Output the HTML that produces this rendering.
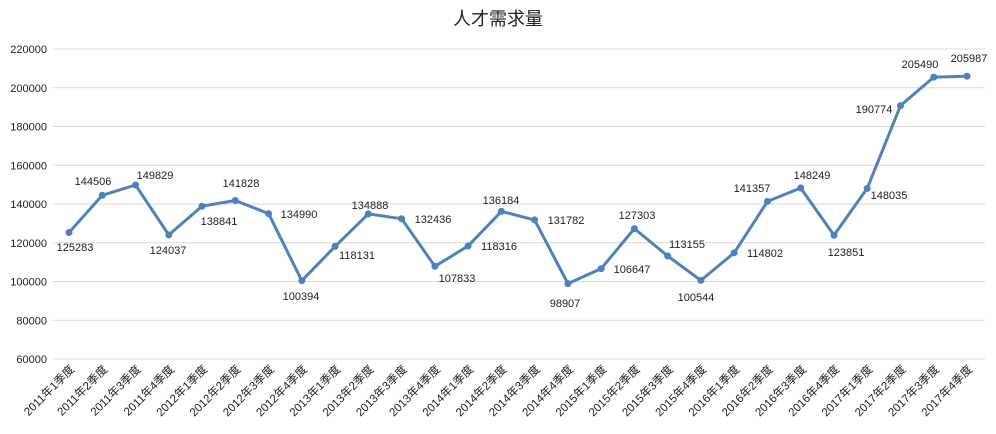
<!DOCTYPE html>
<html><head><meta charset="utf-8"><style>
html,body{margin:0;padding:0;background:#fff}
svg{display:block;font-family:"Liberation Sans","Noto Sans CJK SC",sans-serif}
</style></head><body>
<svg id="c" width="996" height="434" xmlns="http://www.w3.org/2000/svg"></svg>
<script>
var vals=[125283,144506,149829,124037,138841,141828,134990,100394,118131,134888,132436,107833,118316,136184,131782,98907,106647,127303,113155,100544,114802,141357,148249,123851,148035,190774,205490,205987];
var lab=[[75,247],[93,181],[155,175],[168,250],[219,221],[241,183],[299,214],[301,296],[357,255],[370,205],[433,219],[457,278],[499,246],[501,200],[566,220],[565,303],[632,269],[637,215],[687,244],[696,297],[765,253],[752,188],[812,175],[846,252],[889,195],[874,109],[920,64],[969,58]];
function Y(v){return 49+(220000-v)*310/160000;}
function X(i){return 69+i*33.26;}
var s='<text x="498" y="25" text-anchor="middle" font-size="18" fill="#222">人才需求量</text>';
for(var v=60000;v<=220000;v+=20000){var y=Y(v).toFixed(1);
s+='<line x1="53" x2="985" y1="'+y+'" y2="'+y+'" stroke="#d9d9d9" stroke-width="1"/>';
s+='<text x="47" y="'+(+y+4)+'" text-anchor="end" font-size="11" fill="#222">'+v+'</text>';}
var pts=vals.map(function(v,i){return X(i).toFixed(1)+','+Y(v).toFixed(1)}).join(' ');
s+='<polyline points="'+pts+'" fill="none" stroke="#4f81bd" stroke-width="3" stroke-linejoin="round"/>';
vals.forEach(function(v,i){s+='<circle cx="'+X(i).toFixed(1)+'" cy="'+Y(v).toFixed(1)+'" r="3.5" fill="#4f81bd"/>';
s+='<text x="'+lab[i][0]+'" y="'+(lab[i][1]+4)+'" text-anchor="middle" font-size="11" fill="#222">'+v+'</text>';});
for(var i=0;i<28;i++){var yr=2011+Math.floor(i/4),q=i%4+1;var x=X(i)+6;
s+='<text transform="translate('+x.toFixed(1)+',370) rotate(-45)" text-anchor="end" font-size="11.5" fill="#222">'+yr+'年'+q+'季度</text>';}
document.getElementById('c').innerHTML=s;
</script>
</body></html>
